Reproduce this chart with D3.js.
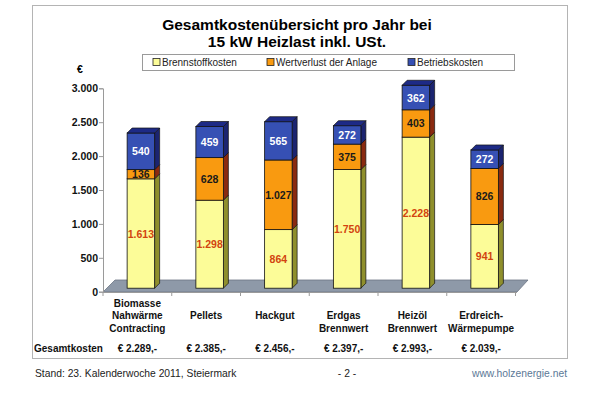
<!DOCTYPE html>
<html>
<head>
<meta charset="utf-8">
<script src="https://cdn.jsdelivr.net/npm/d3@7"></script>
<style>
  body { margin: 0; background: #fff; }
  text { font-family: "Liberation Sans", Arial, sans-serif; }
</style>
</head>
<body>
<div id="chart"></div>
<script>
// data
var categories = [["Biomasse", "Nahwärme", "Contracting"], ["Pellets"], ["Hackgut"],
	["Erdgas", "Brennwert"], ["Heizöl", "Brennwert"], ["Erdreich-", "Wärmepumpe"]];
var seriesNames = ["Brennstoffkosten", "Wertverlust der Anlage", "Betriebskosten"];
var brennstoff = [1613, 1298, 864, 1750, 2228, 941];
var wertverlust = [136, 628, 1027, 375, 403, 826];
var betrieb = [540, 459, 565, 272, 362, 272];
var gesamt = [2289, 2385, 2456, 2397, 2993, 2039];
var yTicks = [0, 500, 1000, 1500, 2000, 2500, 3000];

var W = 602, H = 399;
var svg = d3.select("#chart").append("svg").attr("width", W).attr("height", H);

var de = d3.formatLocale({decimal: ",", thousands: ".", grouping: [3], currency: ["€", ""]});
var fmt = de.format(",d");

// colours: front, side, label
var cols = [
	{front: "#fcfc98", side: "#8f8f2c", text: "#d2440f"},
	{front: "#f99a10", side: "#8a2a10", text: "#1a1a1a"},
	{front: "#3650b4", side: "#1b2470", text: "#ffffff"}
];
var topCol = "#1d2a86";

// frame
svg.append("rect").attr("x", 32.5).attr("y", 5.5).attr("width", 535).attr("height", 353)
	.attr("fill", "none").attr("stroke", "#b4b4b4");

// title
svg.append("text").attr("x", 297).attr("y", 30).attr("text-anchor", "middle")
	.attr("font-size", 15.5).attr("font-weight", "bold").text("Gesamtkostenübersicht pro Jahr bei");
svg.append("text").attr("x", 297).attr("y", 47).attr("text-anchor", "middle")
	.attr("font-size", 15.5).attr("font-weight", "bold").text("15 kW Heizlast inkl. USt.");

// legend
svg.append("rect").attr("x", 142.5).attr("y", 54.5).attr("width", 372).attr("height", 16)
	.attr("fill", "#fff").attr("stroke", "#9a9a9a");
var legX = [153, 267, 408];
seriesNames.forEach(function(n, i) {
	svg.append("rect").attr("x", legX[i]).attr("y", 58.5).attr("width", 7).attr("height", 7)
		.attr("fill", cols[i].front).attr("stroke", "#222").attr("stroke-width", 0.8);
	svg.append("text").attr("x", legX[i] + 9).attr("y", 66).attr("font-size", 10)
		.attr("fill", "#222").text(n);
});

// scales
var x = d3.scaleBand().domain(d3.range(categories.length)).range([103, 515.5])
	.paddingInner(0.6).paddingOuter(0.3);
var y = d3.scaleLinear().domain([0, 3000]).range([291.7, 88.3]);
var step = x.step();
var dx = 5, dy = 5, off = 3.5;

// euro sign
svg.append("text").attr("x", 77).attr("y", 73).attr("font-size", 10.5).attr("font-weight", "bold").text("€");

// floor
var fl = [[103, 292], [517, 292], [528, 280], [115, 280]];
svg.append("polygon").attr("points", fl.map(function(p) { return p.join(","); }).join(" "))
	.attr("fill", "#8e99a8").attr("stroke", "#6c7584").attr("stroke-width", 0.8);

// y axis
var yAxis = d3.axisLeft(y).tickValues(yTicks).tickSize(4).tickFormat(fmt);
var ya = svg.append("g").attr("transform", "translate(103,0)").call(yAxis);
ya.select(".domain").attr("stroke", "#9a9a9a");
ya.selectAll(".tick line").attr("stroke", "#9a9a9a");
ya.selectAll(".tick text").attr("font-size", 10.5).attr("font-weight", "bold")
	.attr("fill", "#111").attr("x", -5).style("font-family", "Liberation Sans, Arial, sans-serif");

// x axis line with ticks at band boundaries
svg.append("line").attr("x1", 103).attr("x2", 517).attr("y1", 292.5).attr("y2", 292.5)
	.attr("stroke", "#9a9a9a");
d3.range(categories.length + 1).forEach(function(i) {
	var tx = 103 + i * step;
	svg.append("line").attr("x1", tx).attr("x2", tx).attr("y1", 292).attr("y2", 296)
		.attr("stroke", "#9a9a9a");
});

// stacked bars
var rows = categories.map(function(c, i) { return {i: i, b: brennstoff[i], w: wertverlust[i], o: betrieb[i]}; });
var stack = d3.stack().keys(["b", "w", "o"])(rows);
var g = svg.append("g");

rows.forEach(function(r, i) {
	var x0 = x(i) + off, x1 = x0 + x.bandwidth();
	stack.forEach(function(s, k) {
		var d = s[i];
		var yt = y(d[1]) - off, yb = y(d[0]) - off;
		g.append("polygon")
			.attr("points", [[x1, yt], [x1 + dx, yt - dy], [x1 + dx, yb - dy], [x1, yb]].join(" "))
			.attr("fill", cols[k].side).attr("stroke", "#111").attr("stroke-width", 0.7);
		g.append("rect").attr("x", x0).attr("y", yt).attr("width", x1 - x0).attr("height", yb - yt)
			.attr("fill", cols[k].front).attr("stroke", "#111").attr("stroke-width", 0.8);
		if (k == 2) {
			g.append("polygon")
				.attr("points", [[x0, yt], [x0 + dx, yt - dy], [x1 + dx, yt - dy], [x1, yt]].join(" "))
				.attr("fill", topCol).attr("stroke", "#111").attr("stroke-width", 0.7);
		}
		g.append("text").attr("x", (x0 + x1) / 2).attr("y", (yt + yb) / 2 + 4)
			.attr("text-anchor", "middle").attr("font-size", 10.5).attr("font-weight", "bold")
			.attr("fill", cols[k].text).text(fmt(d[1] - d[0]));
	});
});

// category labels
var rowY = [306.5, 319, 331.5];
categories.forEach(function(lines, i) {
	var start = lines.length == 3 ? 0 : 1;
	var cx = x(i) + x.bandwidth() / 2;
	lines.forEach(function(l, j) {
		svg.append("text").attr("x", cx).attr("y", rowY[start + j]).attr("text-anchor", "middle")
			.attr("font-size", 10).attr("font-weight", "bold").attr("fill", "#111").text(l);
	});
	svg.append("text").attr("x", cx).attr("y", 352).attr("text-anchor", "middle")
		.attr("font-size", 10).attr("font-weight", "bold").attr("fill", "#111")
		.text("€ " + fmt(gesamt[i]) + ",-");
});
svg.append("text").attr("x", 34).attr("y", 352).attr("font-size", 10).attr("font-weight", "bold")
	.attr("fill", "#111").text("Gesamtkosten");

// footer
svg.append("text").attr("x", 35).attr("y", 377).attr("font-size", 10.3).attr("fill", "#222")
	.text("Stand: 23. Kalenderwoche 2011, Steiermark");
svg.append("text").attr("x", 347).attr("y", 377).attr("text-anchor", "middle").attr("font-size", 10.3)
	.attr("fill", "#222").text("- 2 -");
svg.append("text").attr("x", 567).attr("y", 377).attr("text-anchor", "end").attr("font-size", 10.3)
	.attr("fill", "#5b7896").text("www.holzenergie.net");
</script>
</body>
</html>
